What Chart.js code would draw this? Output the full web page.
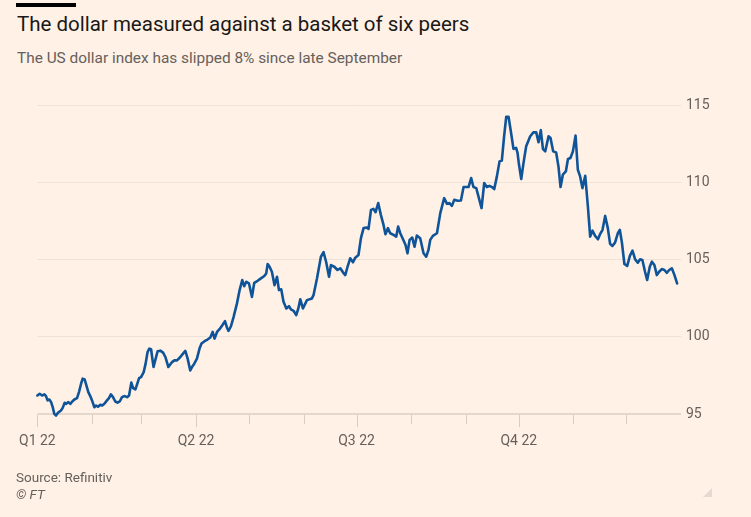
<!DOCTYPE html>
<html>
<head>
<meta charset="utf-8">
<script src="https://cdn.jsdelivr.net/npm/chart.js@4"></script>
<style>
  html, body { margin: 0; padding: 0; background: #fff1e5; }
  body { width: 751px; height: 517px; position: relative; overflow: hidden; font-family: Roboto, sans-serif; }
  #bar { position: absolute; left: 16px; top: 3px; width: 60px; height: 4px; background: #000; }
  #title { position: absolute; left: 17px; top: 12px; font-size: 20.5px; color: #1a1817; white-space: nowrap; font-weight: 400; }
  #subtitle { position: absolute; left: 17px; top: 49px; font-size: 15.4px; color: #66605c; white-space: nowrap; }
  #source { position: absolute; left: 16px; top: 469px; font-size: 13.5px; color: #66605c; }
  #ft { position: absolute; left: 16px; top: 486px; font-size: 13.5px; color: #66605c; font-style: italic; }
  #grip { position: absolute; left: 703px; top: 488px; width: 0; height: 0; border-left: 9px solid transparent; border-bottom: 9px solid #e6dad0; }
  #wrap { position: absolute; left: 0; top: 0; width: 751px; height: 517px; }
</style>
</head>
<body>
<div id="bar"></div>
<div id="title">The dollar measured against a basket of six peers</div>
<div id="subtitle">The US dollar index has slipped 8% since late September</div>
<div id="wrap"><canvas id="chart"></canvas></div>
<div id="source">Source: Refinitiv</div>
<div id="ft">© FT</div>
<div id="grip"></div>
<script>
// day of year 2022 (0 = 1 Jan) and US dollar index level
const days = [0,1.3,2.7,4.0,4.9,5.8,6.8,7.8,8.7,9.6,
  10.6,11.7,13.4,14.3,15.5,16.4,17.6,18.7,19.8,21.0,
  22.5,23.6,24.8,25.7,26.8,27.8,28.9,30.0,31.0,32.3,
  33.3,34.4,35.7,36.8,38.0,39.5,40.6,41.7,42.9,44.2,
  45.5,46.7,48.0,49.3,50.9,52.0,53.3,54.3,55.6,56.5,
  57.7,58.8,60.3,61.4,62.5,63.5,64.5,65.2,65.9,67.1,
  68.2,69.7,71.3,72.6,74.3,76.4,77.7,79.2,81.1,82.6,
  83.9,85.2,86.7,87.9,89.0,90.5,92.0,93.1,94.8,96.5,
  98.1,99.4,100.5,101.9,103.3,104.9,106.4,107.5,108.4,109.8,
  111.3,113.2,114.7,116.2,117.3,118.5,120.0,121.7,123.0,124.9,
  126.8,128.7,129.8,130.6,131.7,133.0,134.5,135.9,137.0,138.3,
  139.6,141.2,142.7,143.8,145.3,146.8,148.0,149.1,150.6,152.9,
  155.7,156.6,158.6,160.8,162.3,163.8,165.4,166.5,168.4,170.2,
  171.8,173.3,174.6,175.9,177.4,179.0,180.3,182.1,183.5,185.0,
  186.9,187.8,189.2,190.6,191.8,193.3,194.8,196.3,197.4,198.8,
  200.1,202.0,203.5,204.6,205.8,207.3,208.8,209.9,211.1,212.6,
  213.9,215.2,217.1,219.0,220.5,221.8,222.8,224.3,226.6,228.5,
  230.7,232.3,233.7,235.1,236.4,238.3,240.2,241.7,243.2,244.5,
  246.0,247.3,248.9,250.4,251.9,253.4,254.9,256.4,257.8,259.1,
  260.6,262.1,263.4,264.7,265.9,267.2,268.5,270.0,271.5,272.3,
  273.0,274.4,275.7,277.2,279.5,281.3,282.9,284.2,285.5,286.7,
  288.0,289.9,291.0,292.5,294.2,295.5,296.7,298.0,299.7,300.9,
  302.3,303.7,305.2,306.5,307.8,309.1,310.7,312.2,313.5,314.8,
  316.3,317.9,319.2,320.5,322.0,323.5,324.8,326.1,327.6,329.2,
  330.3,331.5,332.9,334.5,336.0,337.5,339.0,340.5,341.8,343.1,
  344.6,345.8,347.3,348.5,349.9,351.3,352.6,354.1,355.6,357.0,
  358.3,359.8,361.3,362.8];

const dollarIndex = [96.20,96.31,96.20,96.27,96.16,95.88,95.94,95.77,95.45,95.01,
  94.90,95.08,95.23,95.38,95.73,95.66,95.77,95.66,95.81,95.94,
  96.03,96.42,96.96,97.29,97.24,96.85,96.42,96.16,95.88,95.44,
  95.55,95.47,95.60,95.55,95.66,95.88,96.03,96.27,96.09,95.81,
  95.73,95.81,96.09,96.16,96.09,96.20,97.03,96.68,96.59,96.90,
  97.32,97.39,97.71,98.26,99.01,99.23,99.19,98.58,98.04,98.58,
  99.06,99.10,98.97,98.69,98.04,98.36,98.47,98.47,98.69,98.91,
  99.08,98.60,97.82,98.08,98.26,98.58,99.25,99.56,99.71,99.82,
  99.95,100.31,99.88,100.31,100.49,100.75,101.01,100.60,100.38,100.68,
  101.29,102.16,103.02,103.67,103.27,103.56,103.45,102.58,103.49,103.62,
  103.78,103.93,104.10,104.71,104.53,104.21,103.34,103.88,103.02,103.07,
  102.26,101.83,101.98,101.77,101.68,101.40,101.83,102.42,101.83,102.37,
  102.48,102.69,103.78,105.18,105.47,104.82,103.88,104.64,104.53,104.32,
  104.43,104.17,103.99,104.53,105.08,104.82,105.12,105.29,106.38,107.03,
  107.07,106.98,108.21,108.28,108.06,108.65,107.89,107.24,106.64,107.03,
  106.70,106.59,106.48,107.13,106.70,106.33,105.94,105.40,106.27,106.42,
  105.83,106.55,106.38,105.40,105.18,105.62,106.27,106.53,106.70,108.00,
  108.97,108.60,108.65,108.47,108.86,108.80,108.82,109.69,109.69,109.69,
  110.27,109.69,109.62,108.97,108.33,109.95,109.69,109.77,109.69,109.56,
  110.38,111.35,111.40,112.98,114.24,114.24,113.30,112.16,112.22,111.90,
  111.25,110.21,111.25,112.33,112.98,113.23,113.23,112.59,113.37,112.16,
  112.00,112.98,112.87,112.00,111.93,111.03,109.69,110.49,110.70,111.51,
  111.57,112.00,113.02,110.81,110.38,109.62,110.42,108.43,106.48,106.87,
  106.53,106.31,106.66,106.92,107.82,107.03,106.01,105.88,106.09,106.70,
  106.92,106.09,104.71,104.58,105.23,105.57,105.01,104.79,105.01,104.97,
  104.21,103.67,104.53,104.86,104.64,103.99,104.21,104.38,104.32,104.14,
  104.32,104.43,103.99,103.45];

// month starts (day of year) and labels for quarter starts
const monthStarts = [0, 31, 59, 90, 120, 151, 181, 212, 243, 273, 304, 334];
const quarterLabels = ['Q1 22', 'Q2 22', 'Q3 22', 'Q4 22'];
const yTicks = [95, 100, 105, 110, 115];

const ctx = document.getElementById('chart').getContext('2d');
ctx.canvas.width = 751;
ctx.canvas.height = 517;

const tickMarks = {
    id: 'tickMarks',
    afterDraw(chart) {
        const x = chart.scales.x;
        const c = chart.ctx;
        const bottom = chart.chartArea.bottom;
        c.save();
        c.strokeStyle = '#d9cdc2';
        c.lineWidth = 1;
        monthStarts.forEach((d, i) => {
            const px = Math.round(x.getPixelForValue(d)) + 0.5;
            c.beginPath();
            c.moveTo(px, bottom + 1);
            c.lineTo(px, bottom + (i % 3 === 0 ? 13 : 10));
            c.stroke();
        });
        c.restore();
    }
};

const chart = new Chart(ctx, {
    type: 'line',
    data: {
        datasets: [{
            label: 'US dollar index',
            data: days.map((d, i) => ({ x: d, y: dollarIndex[i] })),
            borderColor: '#0f5499',
            borderWidth: 2.6,
            borderJoinStyle: 'round',
            borderCapStyle: 'round',
            pointRadius: 0,
            tension: 0,
            clip: false
        }]
    },
    options: {
        responsive: false,
        animation: false,
        layout: { padding: { left: 37, top: 105, right: 0, bottom: 0 } },
        plugins: { legend: { display: false }, tooltip: { enabled: false } },
        scales: {
            x: {
                type: 'linear',
                min: 0,
                max: 365,
                afterBuildTicks: s => { s.ticks = monthStarts.map(v => ({ value: v })); },
                afterFit: s => { s.height = 103; },
                grid: { display: false, drawTicks: false },
                border: { display: false },
                ticks: {
                    autoSkip: false,
                    maxRotation: 0,
                    padding: 19,
                    color: '#66605c',
                    font: { family: 'Roboto', size: 14 },
                    callback: v => {
                        const i = monthStarts.indexOf(v);
                        return i % 3 === 0 ? quarterLabels[i / 3] : '';
                    }
                }
            },
            y: {
                position: 'right',
                min: 95,
                max: 115,
                afterBuildTicks: s => { s.ticks = yTicks.map(v => ({ value: v })); },
                afterFit: s => { s.width = 70; },
                grid: {
                    drawTicks: false,
                    color: c => c.tick && c.tick.value === 95 ? '#e4d8cd' : '#eee3d9',
                    lineWidth: c => c.tick && c.tick.value === 95 ? 2 : 1
                },
                border: { display: false },
                ticks: {
                    padding: 5,
                    color: '#66605c',
                    font: { family: 'Roboto', size: 14 }
                }
            }
        }
    },
    plugins: [tickMarks]
});
</script>
</body>
</html>
